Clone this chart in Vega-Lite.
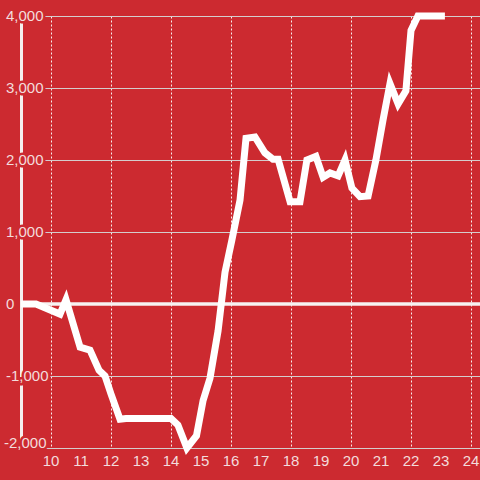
{
  "$schema": "https://vega.github.io/schema/vega-lite/v6.json",
  "width": 459,
  "height": 432,
  "autosize": "none",
  "padding": {"left": 21, "top": 16, "right": 0, "bottom": 32},
  "background": "#cc2a30",
  "config": {"view": {"stroke": null}, "font": "Liberation Sans"},
  "datasets": {
    "series": [
      {"t": 9.0, "v": 0}, {"t": 9.5, "v": 0}, {"t": 10.3, "v": -140}, {"t": 10.5, "v": 60},
      {"t": 10.97, "v": -600}, {"t": 11.3, "v": -640}, {"t": 11.6, "v": -920}, {"t": 11.8, "v": -1000},
      {"t": 12.0, "v": -1250}, {"t": 12.3, "v": -1600}, {"t": 12.5, "v": -1590}, {"t": 14.0, "v": -1590},
      {"t": 14.23, "v": -1680}, {"t": 14.53, "v": -2000}, {"t": 14.85, "v": -1830}, {"t": 15.07, "v": -1340},
      {"t": 15.3, "v": -1030}, {"t": 15.57, "v": -370}, {"t": 15.8, "v": 440}, {"t": 16.03, "v": 890},
      {"t": 16.3, "v": 1440}, {"t": 16.5, "v": 2300}, {"t": 16.8, "v": 2320}, {"t": 17.13, "v": 2100},
      {"t": 17.4, "v": 2010}, {"t": 17.57, "v": 2010}, {"t": 17.97, "v": 1420}, {"t": 18.3, "v": 1420},
      {"t": 18.53, "v": 2000}, {"t": 18.83, "v": 2050}, {"t": 19.07, "v": 1760}, {"t": 19.3, "v": 1820},
      {"t": 19.57, "v": 1780}, {"t": 19.8, "v": 2000}, {"t": 20.03, "v": 1610}, {"t": 20.3, "v": 1490},
      {"t": 20.57, "v": 1500}, {"t": 20.83, "v": 2000}, {"t": 21.07, "v": 2560}, {"t": 21.3, "v": 3060},
      {"t": 21.57, "v": 2780}, {"t": 21.83, "v": 2960}, {"t": 22.0, "v": 3800}, {"t": 22.23, "v": 4000},
      {"t": 23.13, "v": 4000}
    ],
    "ylabels": [
      {"t": 9, "v": 4000, "label": "4,000"}, {"t": 9, "v": 3000, "label": "3,000"},
      {"t": 9, "v": 2000, "label": "2,000"}, {"t": 9, "v": 1000, "label": "1,000"},
      {"t": 9, "v": 0, "label": "0"}, {"t": 9, "v": -1000, "label": "-1,000"}
    ],
    "ybottom": [{"t": 9, "v": -2000, "label": "-2,000"}],
    "xlabels": [
      {"t": 10, "v": -2000, "label": "10"}, {"t": 11, "v": -2000, "label": "11"},
      {"t": 12, "v": -2000, "label": "12"}, {"t": 13, "v": -2000, "label": "13"},
      {"t": 14, "v": -2000, "label": "14"}, {"t": 15, "v": -2000, "label": "15"},
      {"t": 16, "v": -2000, "label": "16"}, {"t": 17, "v": -2000, "label": "17"},
      {"t": 18, "v": -2000, "label": "18"}, {"t": 19, "v": -2000, "label": "19"},
      {"t": 20, "v": -2000, "label": "20"}, {"t": 21, "v": -2000, "label": "21"},
      {"t": 22, "v": -2000, "label": "22"}, {"t": 23, "v": -2000, "label": "23"},
      {"t": 24, "v": -2000, "label": "24"}
    ],
    "zero": [{"v": 0}]
  },
  "layer": [
    {
      "data": {"name": "series"},
      "mark": {"type": "line", "color": "#ffffff", "strokeWidth": 7, "opacity": 0},
      "encoding": {
        "x": {
          "field": "t", "type": "quantitative",
          "scale": {"domain": [9, 24.3], "nice": false, "zero": false},
          "axis": {
            "values": [10, 11, 12, 13, 14, 15, 16, 17, 18, 19, 20, 21, 22, 23, 24],
            "grid": true, "gridDash": [2, 2], "gridColor": "#f8eeee", "gridWidth": 1,
            "domain": false, "ticks": false, "labels": false, "title": null
          }
        },
        "y": {
          "field": "v", "type": "quantitative",
          "scale": {"domain": [-2000, 4000], "nice": false, "zero": false},
          "axis": {
            "values": [-2000, -1500, -1000, -500, 0, 500, 1000, 1500, 2000, 2500, 3000, 3500, 4000],
            "grid": true, "gridColor": "#d4cdcd", "gridWidth": 1,
            "labels": false, "ticks": false,
            "domain": true, "domainColor": "#f5eeee", "domainWidth": 3, "title": null
          }
        }
      }
    },
    {
      "data": {"name": "zero"},
      "mark": {"type": "rule", "color": "#f7f2f2", "strokeWidth": 3.5},
      "encoding": {"y": {"field": "v", "type": "quantitative"}}
    },
    {
      "data": {"name": "series"},
      "mark": {"type": "line", "color": "#ffffff", "strokeWidth": 7, "strokeJoin": "miter", "strokeCap": "butt"},
      "encoding": {
        "x": {"field": "t", "type": "quantitative"},
        "y": {"field": "v", "type": "quantitative"}
      }
    },
    {
      "data": {"name": "xlabels"},
      "mark": {"type": "text", "align": "center", "baseline": "top", "dy": 6, "fontSize": 15, "fill": "#f3dcdc"},
      "encoding": {
        "x": {"field": "t", "type": "quantitative"},
        "y": {"field": "v", "type": "quantitative"},
        "text": {"field": "label"}
      }
    },
    {
      "data": {"name": "ylabels"},
      "mark": {"type": "text", "align": "left", "baseline": "middle", "dx": -15, "fontSize": 15, "fill": "#cc2a30", "stroke": "#cc2a30", "strokeWidth": 5},
      "encoding": {
        "x": {"field": "t", "type": "quantitative"},
        "y": {"field": "v", "type": "quantitative"},
        "text": {"field": "label"}
      }
    },
    {
      "data": {"name": "ybottom"},
      "mark": {"type": "text", "align": "left", "baseline": "alphabetic", "dx": -17, "fontSize": 15, "fill": "#cc2a30", "stroke": "#cc2a30", "strokeWidth": 5},
      "encoding": {
        "x": {"field": "t", "type": "quantitative"},
        "y": {"field": "v", "type": "quantitative"},
        "text": {"field": "label"}
      }
    },
    {
      "data": {"name": "ylabels"},
      "mark": {"type": "text", "align": "left", "baseline": "middle", "dx": -15, "fontSize": 15, "fill": "#f3dcdc"},
      "encoding": {
        "x": {"field": "t", "type": "quantitative"},
        "y": {"field": "v", "type": "quantitative"},
        "text": {"field": "label"}
      }
    },
    {
      "data": {"name": "ybottom"},
      "mark": {"type": "text", "align": "left", "baseline": "alphabetic", "dx": -17, "fontSize": 15, "fill": "#f3dcdc"},
      "encoding": {
        "x": {"field": "t", "type": "quantitative"},
        "y": {"field": "v", "type": "quantitative"},
        "text": {"field": "label"}
      }
    }
  ]
}
